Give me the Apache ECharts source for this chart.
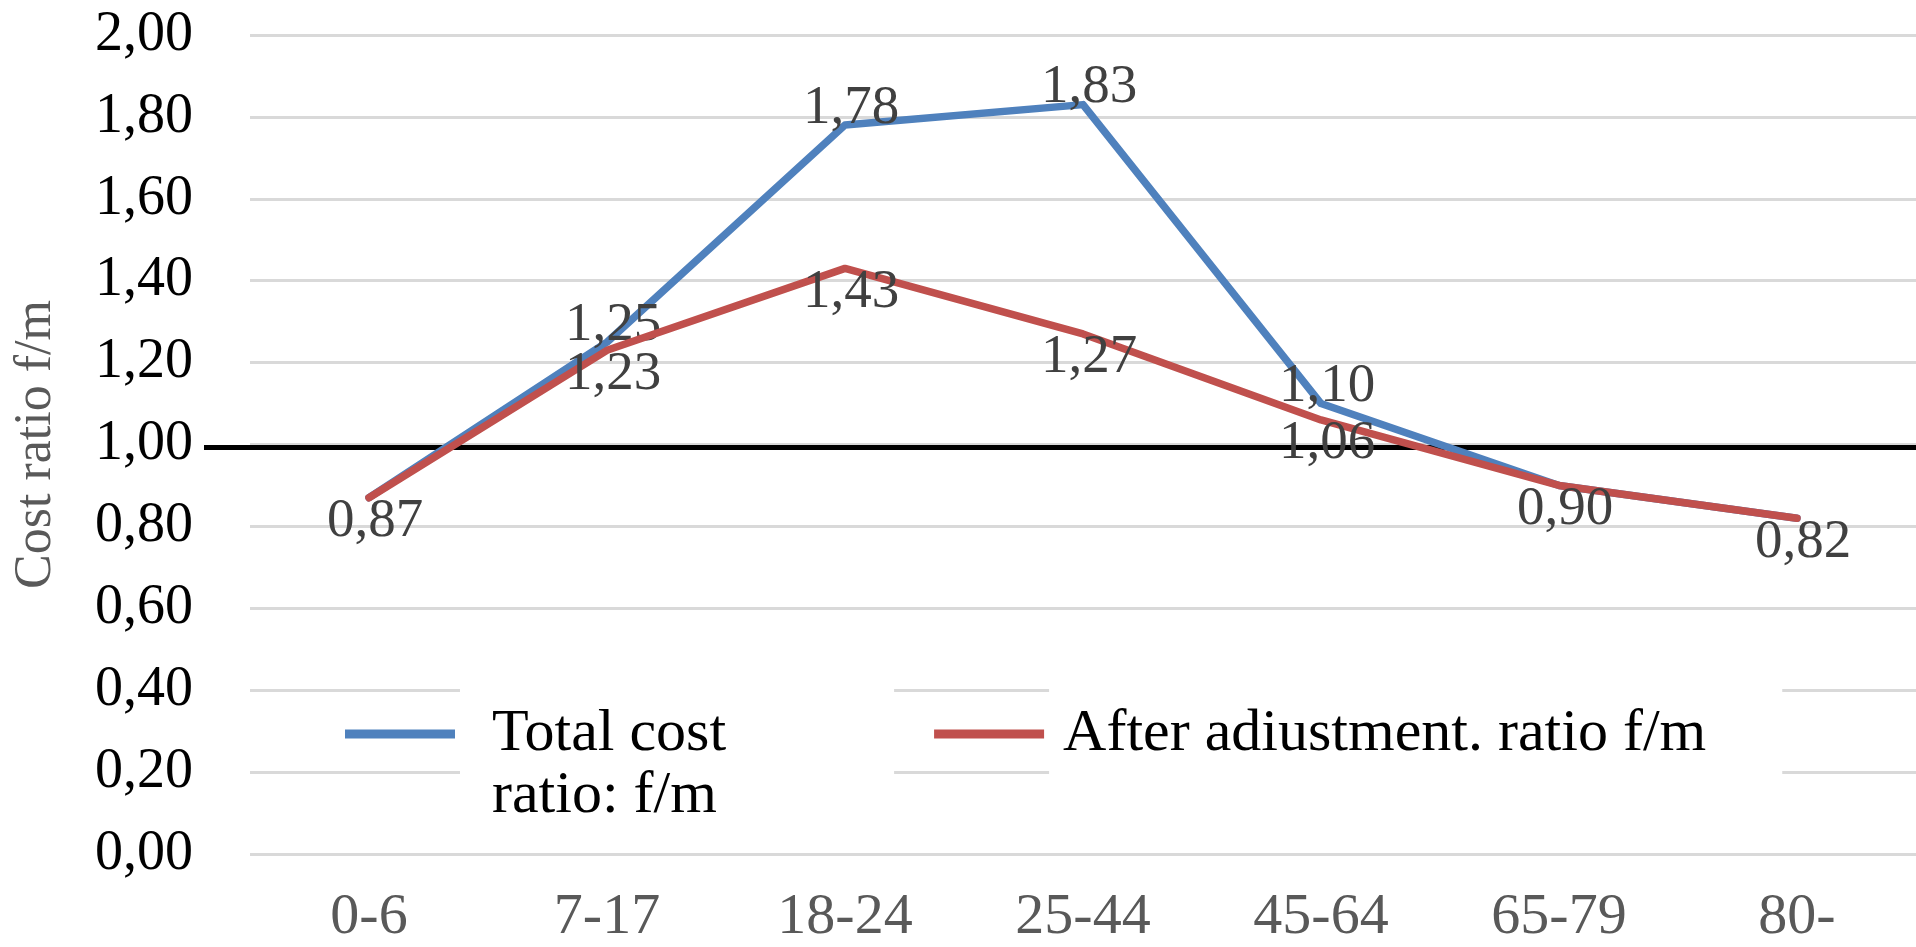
<!DOCTYPE html>
<html>
<head>
<meta charset="utf-8">
<script src="https://cdn.jsdelivr.net/npm/echarts@6/dist/echarts.min.js"></script>
<style>
  html, body { margin: 0; padding: 0; background: #fff; }
  #chart { width: 1916px; height: 947px; }
</style>
</head>
<body>
<div id="chart"></div>
<script>
// ---- data ----
const categories = ['0-6', '7-17', '18-24', '25-44', '45-64', '65-79', '80-'];
const totalRatio = [0.87, 1.25, 1.78, 1.83, 1.10, 0.90, 0.82];
const adjustedRatio = [0.87, 1.23, 1.43, 1.27, 1.06, 0.90, 0.82];
const seriesNames = ['Total cost ratio: f/m', 'After adiustment. ratio f/m'];
const legendLabels = ['\nTotal cost\nratio: f/m', 'After adiustment. ratio f/m'];
const yAxisName = 'Cost ratio f/m';
const yMin = 0, yMax = 2, yStep = 0.2;
const referenceValue = 1.0;

// ---- helpers ----
const FONT = 'Liberation Serif';
const fmt = v => Number(v).toFixed(2).replace('.', ',');

const chart = echarts.init(document.getElementById('chart'), null, { renderer: 'canvas' });

const totalData = totalRatio.map((v, i) => ({
  value: v,
  label: { show: v !== adjustedRatio[i] }
}));

const option = {
  backgroundColor: '#ffffff',
  animation: false,
  textStyle: { fontFamily: FONT },
  grid: [
    { left: 250, right: -38, top: 35, bottom: 88, containLabel: false },
    { left: 204, right: 0, top: 35, bottom: 88, containLabel: false }
  ],
  legend: {
    left: 345,
    top: 633,
    padding: 0,
    icon: 'rect',
    itemWidth: 110,
    itemHeight: 9,
    itemGap: 40,
    selectedMode: false,
    formatter: name => legendLabels[seriesNames.indexOf(name)],
    textStyle: {
      fontFamily: FONT, fontSize: 60, lineHeight: 62, color: '#000000',
      backgroundColor: '#ffffff'
    },
    data: [
      { name: seriesNames[0], textStyle: { padding: [8, 168, 8, 32] } },
      { name: seriesNames[1], textStyle: { padding: [25, 76, 25, 14] } }
    ]
  },
  xAxis: [
    {
      type: 'category',
      gridIndex: 0,
      data: categories,
      boundaryGap: true,
      axisLine: { show: false },
      axisTick: { show: false },
      axisLabel: {
        margin: 35, fontFamily: FONT, fontSize: 58, color: '#595959'
      },
      splitLine: { show: false }
    },
    { type: 'value', gridIndex: 1, min: 0, max: 1, show: false }
  ],
  yAxis: [
    {
      type: 'value',
      gridIndex: 0,
      min: yMin, max: yMax, interval: yStep,
      name: yAxisName,
      nameLocation: 'middle',
      nameRotate: 90,
      nameGap: 188,
      nameTextStyle: { fontFamily: FONT, fontSize: 52, color: '#595959' },
      axisLine: { show: false },
      axisTick: { show: false },
      axisLabel: {
        margin: 57, fontFamily: FONT, fontSize: 56, color: '#000000',
        formatter: v => fmt(v)
      },
      splitLine: { show: true, lineStyle: { color: '#d9d9d9', width: 3 } }
    },
    { type: 'value', gridIndex: 1, min: yMin, max: yMax, show: false }
  ],
  series: [
    {
      name: 'reference line',
      type: 'line',
      xAxisIndex: 1, yAxisIndex: 1,
      data: [],
      z: 1,
      markLine: {
        silent: true,
        z: 1,
        symbol: ['none', 'none'],
        label: { show: false },
        lineStyle: { color: '#000000', width: 5, type: 'solid' },
        emphasis: { disabled: true },
        data: [{ yAxis: referenceValue }]
      }
    },
    {
      name: seriesNames[0],
      type: 'line',
      xAxisIndex: 0, yAxisIndex: 0,
      data: totalData,
      symbol: 'circle',
      symbolSize: 1,
      color: '#4F81BD',
      lineStyle: { color: '#4F81BD', width: 7.5, join: 'round', cap: 'round' },
      itemStyle: { color: '#4F81BD' },
      label: {
        show: true, position: 'inside', offset: [6, -17],
        fontFamily: FONT, fontSize: 55, color: '#404040',
        formatter: p => fmt(p.value)
      },
      z: 3
    },
    {
      name: seriesNames[1],
      type: 'line',
      xAxisIndex: 0, yAxisIndex: 0,
      data: adjustedRatio,
      symbol: 'circle',
      symbolSize: 1,
      color: '#C0504D',
      lineStyle: { color: '#C0504D', width: 7.5, join: 'round', cap: 'round' },
      itemStyle: { color: '#C0504D' },
      label: {
        show: true, position: 'inside', offset: [6, 24],
        fontFamily: FONT, fontSize: 55, color: '#404040',
        formatter: p => fmt(p.value)
      },
      z: 4
    }
  ]
};

chart.setOption(option);
</script>
</body>
</html>
